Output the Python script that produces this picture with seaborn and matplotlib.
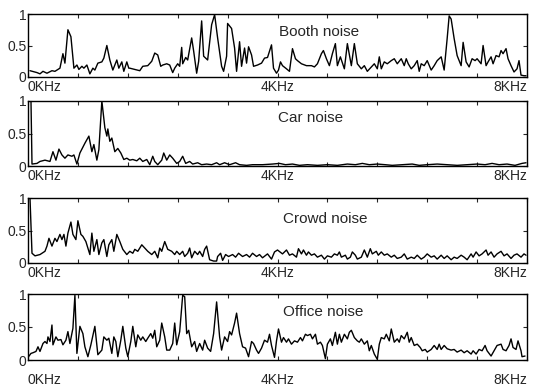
import numpy as np
import pandas as pd
import matplotlib
matplotlib.use("Agg")
import matplotlib.pyplot as plt
import seaborn as sns

# frequency axis: 500 bins spanning 0-8 kHz (16 Hz per bin)
booth_bins = [2, 9, 12, 15, 19, 24, 27, 32, 35, 37, 40, 43, 46, 49, 51, 54, 56, 59, 62, 65, 67, 70, 74, 76, 79, 82, 85, 89, 91, 94, 96, 99, 101,
              102, 107, 112, 115, 120, 124, 127, 130, 133, 135, 139, 142, 145, 147, 150, 152, 154, 155, 158, 160, 164, 166, 169, 171, 174, 176,
              180, 184, 187, 190, 194, 196, 199, 200, 204, 207, 209, 212, 214, 217, 219, 221, 224, 226, 230, 234, 237, 240, 244, 246, 249,
              251, 253, 255, 259, 262, 265, 268, 270, 274, 279, 284, 287, 290, 294, 296, 299, 302, 305, 308, 310, 313, 317, 320, 324, 327,
              330, 334, 337, 340, 344, 347, 350, 352, 354, 357, 360, 364, 367, 370, 374, 377, 379, 381, 384, 387, 390, 392, 394, 397, 400,
              404, 407, 410, 414, 417, 420, 422, 424, 427, 430, 434, 436, 439, 442, 445, 448, 450, 454, 456, 459, 461, 464, 466, 469, 472,
              474, 476, 479, 481, 484, 487, 490, 492, 494, 497, 499]
booth_vals = [0.10, 0.07, 0.05, 0.09, 0.06, 0.10, 0.09, 0.14, 0.37, 0.22, 0.75, 0.64, 0.14, 0.19, 0.12, 0.17, 0.14, 0.19, 0.05, 0.14, 0.11, 0.22, 0.24, 0.30, 0.50, 0.27, 0.11, 0.27, 0.14, 0.24, 0.09, 0.24, 0.14,
              0.14, 0.12, 0.10, 0.17, 0.18, 0.25, 0.38, 0.35, 0.17, 0.19, 0.21, 0.19, 0.07, 0.14, 0.21, 0.17, 0.47, 0.21, 0.31, 0.27, 0.62, 0.41, 0.06, 0.25, 0.89, 0.33,
              0.27, 0.83, 0.99, 0.62, 0.17, 0.09, 0.33, 0.85, 0.77, 0.46, 0.09, 0.56, 0.17, 0.46, 0.22, 0.48, 0.35, 0.17, 0.19, 0.22, 0.30, 0.31, 0.51, 0.14, 0.06,
              0.11, 0.24, 0.18, 0.13, 0.09, 0.45, 0.29, 0.26, 0.21, 0.18, 0.18, 0.16, 0.21, 0.37, 0.42, 0.29, 0.18, 0.37, 0.53, 0.18, 0.32, 0.13, 0.53, 0.18, 0.53,
              0.21, 0.13, 0.18, 0.09, 0.16, 0.21, 0.13, 0.32, 0.13, 0.24, 0.21, 0.26, 0.29, 0.21, 0.29, 0.18, 0.29, 0.21, 0.13, 0.18, 0.26, 0.09, 0.21, 0.18, 0.26,
              0.11, 0.18, 0.26, 0.32, 0.11, 0.61, 0.97, 0.92, 0.61, 0.34, 0.18, 0.55, 0.24, 0.16, 0.29, 0.26, 0.29, 0.21, 0.50, 0.18, 0.24, 0.32, 0.21, 0.34, 0.32,
              0.42, 0.37, 0.45, 0.29, 0.18, 0.08, 0.13, 0.26, 0.03, 0.02, 0.02]

car_bins = [3, 4, 9, 12, 17, 22, 25, 28, 31, 34, 37, 40, 44, 46, 49, 52, 57, 61, 64, 66, 69, 71, 74, 77, 79, 80, 82, 84, 87, 90, 93, 96, 99, 102,
            105, 109, 112, 115, 119, 122, 125, 127, 130, 134, 136, 139, 142, 145, 149, 152, 155, 158, 162, 165, 170, 174, 179, 184, 189, 192,
            197, 202, 208, 212, 219, 225, 235, 245, 252, 258, 265, 272, 280, 290, 300, 310, 320, 328, 335, 342, 350, 358, 365, 375, 385, 392,
            400, 410, 420, 430, 440, 450, 458, 465, 472, 480, 488, 495, 499]
car_vals = [0.99, 0.03, 0.04, 0.07, 0.09, 0.07, 0.22, 0.09, 0.26, 0.17, 0.12, 0.17, 0.15, 0.17, 0.03, 0.20, 0.35, 0.46, 0.22, 0.33, 0.09, 0.25, 1.00, 0.59, 0.46, 0.57, 0.38, 0.43, 0.22, 0.27, 0.20, 0.10, 0.12, 0.09,
            0.10, 0.08, 0.12, 0.07, 0.10, 0.02, 0.15, 0.07, 0.02, 0.09, 0.20, 0.09, 0.17, 0.12, 0.04, 0.07, 0.15, 0.04, 0.07, 0.03, 0.05, 0.02, 0.03, 0.02, 0.05, 0.02,
            0.05, 0.02, 0.05, 0.02, 0.01, 0.02, 0.02, 0.03, 0.04, 0.02, 0.03, 0.01, 0.02, 0.01, 0.02, 0.01, 0.03, 0.02, 0.04, 0.02, 0.03, 0.02, 0.01, 0.02, 0.03, 0.01,
            0.02, 0.03, 0.02, 0.01, 0.02, 0.03, 0.02, 0.04, 0.02, 0.03, 0.01, 0.04, 0.05]

crowd_bins = [2, 4, 7, 12, 17, 19, 21, 24, 27, 29, 32, 34, 36, 38, 40, 43, 45, 48, 50, 53, 55, 58, 60, 62, 64, 66, 69, 71, 74, 76, 79, 81, 84, 86,
              89, 92, 95, 99, 102, 105, 107, 110, 114, 117, 120, 124, 127, 130, 132, 134, 137, 140, 144, 147, 149, 152, 155, 157, 160, 162, 164,
              167, 170, 172, 175, 177, 179, 182, 186, 189, 190, 193, 195, 198, 201, 205, 208, 211, 215, 219, 222, 225, 229, 232, 235,
              240, 244, 247, 250, 255, 259, 262, 265, 269, 271, 274, 276, 279, 281, 284, 287, 290, 294, 297, 300, 304, 307, 310, 312, 314,
              318, 320, 323, 325, 328, 330, 334, 337, 340, 343, 345, 349, 351, 354, 357, 360, 364, 367, 370, 374, 377, 380, 384, 387, 390,
              394, 397, 400, 404, 407, 410, 414, 417, 420, 424, 427, 430, 434, 437, 440, 444, 446, 449, 452, 455, 459, 461, 464, 467, 470,
              474, 477, 480, 484, 487, 490, 494, 497, 499]
crowd_vals = [1.00, 0.15, 0.11, 0.13, 0.18, 0.26, 0.38, 0.26, 0.38, 0.33, 0.44, 0.36, 0.44, 0.26, 0.46, 0.63, 0.44, 0.36, 0.65, 0.44, 0.41, 0.33, 0.23, 0.13, 0.46, 0.18, 0.36, 0.13, 0.31, 0.36, 0.10, 0.28, 0.36, 0.18,
              0.44, 0.33, 0.21, 0.13, 0.18, 0.15, 0.21, 0.18, 0.28, 0.23, 0.18, 0.13, 0.18, 0.08, 0.23, 0.18, 0.33, 0.21, 0.18, 0.13, 0.18, 0.13, 0.18, 0.10, 0.15, 0.23, 0.08,
              0.18, 0.13, 0.18, 0.10, 0.21, 0.26, 0.05, 0.03, 0.03, 0.10, 0.15, 0.04, 0.13, 0.10, 0.13, 0.09, 0.15, 0.10, 0.13, 0.09, 0.15, 0.10, 0.13, 0.08,
              0.14, 0.06, 0.17, 0.20, 0.14, 0.20, 0.12, 0.14, 0.09, 0.22, 0.14, 0.20, 0.12, 0.17, 0.12, 0.14, 0.09, 0.12, 0.06, 0.11, 0.09, 0.14, 0.12, 0.17, 0.09,
              0.12, 0.06, 0.09, 0.17, 0.12, 0.06, 0.09, 0.20, 0.09, 0.22, 0.14, 0.18, 0.12, 0.17, 0.12, 0.14, 0.09, 0.12, 0.07, 0.09, 0.14, 0.06, 0.09, 0.07, 0.12,
              0.06, 0.09, 0.14, 0.09, 0.11, 0.06, 0.12, 0.07, 0.11, 0.05, 0.09, 0.07, 0.12, 0.09, 0.05, 0.14, 0.09, 0.17, 0.11, 0.14, 0.20, 0.12, 0.17, 0.09, 0.14,
              0.18, 0.11, 0.14, 0.07, 0.12, 0.14, 0.09, 0.14, 0.12]

office_bins = [0, 3, 5, 8, 10, 12, 15, 17, 19, 20, 22, 24, 25, 28, 30, 33, 35, 38, 40, 42, 45, 47, 49, 52, 55, 57, 60, 63, 67, 70, 74, 76, 79, 81,
               84, 86, 88, 90, 93, 95, 98, 100, 103, 105, 108, 110, 113, 115, 118, 120, 123, 125, 127, 129, 132, 134, 137, 139, 142, 145, 147,
               149, 152, 155, 157, 159, 161, 164, 167, 169, 172, 175, 177, 180, 183, 186, 189, 192, 194, 197, 200, 202, 204, 207, 209, 212,
               215, 218, 221, 224, 226, 229, 231, 234, 237, 240, 242, 244, 247, 249, 251, 254, 256, 259, 261, 264, 267, 270, 273, 275, 278,
               280, 283, 285, 288, 290, 293, 295, 298, 300, 303, 305, 308, 310, 312, 314, 317, 320, 322, 324, 327, 330, 332, 334, 337, 340,
               342, 344, 347, 350, 352, 354, 357, 359, 362, 364, 367, 370, 372, 374, 377, 380, 382, 384, 387, 390, 393, 395, 398, 400, 404,
               407, 410, 412, 414, 417, 420, 424, 427, 430, 434, 437, 440, 444, 446, 449, 452, 455, 458, 460, 464, 467, 470, 474, 476, 479,
               482, 484, 486, 489, 491, 494, 495, 498]
office_vals = [0.04, 0.10, 0.11, 0.13, 0.20, 0.13, 0.25, 0.28, 0.25, 0.35, 0.28, 0.53, 0.23, 0.35, 0.30, 0.31, 0.23, 0.30, 0.43, 0.25, 0.48, 0.98, 0.10, 0.51, 0.40, 0.20, 0.05, 0.23, 0.51, 0.08, 0.15, 0.35, 0.30, 0.33,
               0.10, 0.35, 0.28, 0.05, 0.30, 0.51, 0.18, 0.05, 0.28, 0.51, 0.20, 0.38, 0.30, 0.35, 0.28, 0.33, 0.40, 0.33, 0.45, 0.20, 0.30, 0.56, 0.35, 0.15, 0.15, 0.25, 0.56,
               0.23, 0.43, 0.98, 0.96, 0.40, 0.45, 0.20, 0.28, 0.13, 0.25, 0.15, 0.30, 0.18, 0.13, 0.40, 0.88, 0.35, 0.15, 0.35, 0.28, 0.43, 0.38, 0.56, 0.71, 0.40,
               0.20, 0.18, 0.05, 0.28, 0.25, 0.15, 0.10, 0.18, 0.30, 0.27, 0.39, 0.22, 0.04, 0.29, 0.47, 0.27, 0.34, 0.27, 0.32, 0.24, 0.29, 0.27, 0.34, 0.29, 0.39,
               0.37, 0.39, 0.32, 0.39, 0.24, 0.27, 0.22, 0.02, 0.24, 0.32, 0.22, 0.42, 0.24, 0.39, 0.27, 0.39, 0.32, 0.42, 0.45, 0.34, 0.29, 0.27, 0.32, 0.24, 0.29,
               0.14, 0.22, 0.09, 0.01, 0.24, 0.34, 0.32, 0.39, 0.29, 0.47, 0.27, 0.32, 0.27, 0.37, 0.32, 0.42, 0.27, 0.34, 0.22, 0.24, 0.19, 0.14, 0.16, 0.12, 0.16,
               0.22, 0.16, 0.24, 0.16, 0.22, 0.17, 0.15, 0.16, 0.12, 0.15, 0.11, 0.14, 0.09, 0.14, 0.09, 0.16, 0.14, 0.22, 0.14, 0.06, 0.14, 0.22, 0.24, 0.16, 0.14,
               0.22, 0.32, 0.19, 0.16, 0.29, 0.14, 0.05, 0.06]

titles = ["Booth noise", "Car noise", "Crowd noise", "Office noise"]
series = [(booth_bins, booth_vals), (car_bins, car_vals), (crowd_bins, crowd_vals), (office_bins, office_vals)]
xtick_pos = [0, 250, 500]
xtick_labels = ["0KHz", "4KHz", "8KHz"]
ytick_pos = [0, 0.5, 1]
ytick_labels = ["0", "0.5", "1"]

sns.set_style("ticks")
plt.rcParams['font.family'] = ['Liberation Sans', 'DejaVu Sans']

W, H = 535, 386
fig = plt.figure(figsize=(W / 100, H / 100), dpi=100)

# (top, bottom) pixel rows of each panel
rows = [(14, 77), (101, 166), (198, 263), (294, 360)]
title_pos = [(0.503, 0.71), (0.501, 0.74), (0.511, 0.68), (0.511, 0.73)]
label_pad = [2, 2, 2, 9]
left, right = 28, 527

for i, ((b, v), title) in enumerate(zip(series, titles)):
    top, bot = rows[i]
    ax = fig.add_axes([left / W, (H - bot) / H, (right - left) / W, (bot - top) / H])
    df = pd.DataFrame({"bin": b, "mag": v})
    sns.lineplot(data=df, x="bin", y="mag", ax=ax, color="black", linewidth=1.0,
                 estimator=None, sort=True)
    ax.set_xlim(0, 500)
    ax.set_ylim(0, 1)
    ax.set_xlabel("")
    ax.set_ylabel("")
    ax.set_xticks(xtick_pos)
    ax.set_xticklabels(xtick_labels, fontsize=10)
    ax.set_xticks(np.arange(0, 501, 50), minor=True)
    ax.set_yticks(ytick_pos)
    ax.set_yticklabels(ytick_labels, fontsize=10)
    ax.tick_params(axis="x", which="both", direction="in", top=True, bottom=True,
                   length=3, width=0.8, pad=label_pad[i])
    ax.tick_params(axis="y", which="both", direction="in", left=True, right=True,
                   length=3, width=0.8, pad=1)
    labs = ax.get_xticklabels()
    labs[0].set_ha("left")
    labs[1].set_ha("center")
    labs[2].set_ha("right")
    for s in ax.spines.values():
        s.set_linewidth(1.0)
        s.set_color("black")
    ax.text(title_pos[i][0], title_pos[i][1], title, transform=ax.transAxes,
            ha="left", va="center", fontsize=11)

fig.savefig("out.png", dpi=100)
